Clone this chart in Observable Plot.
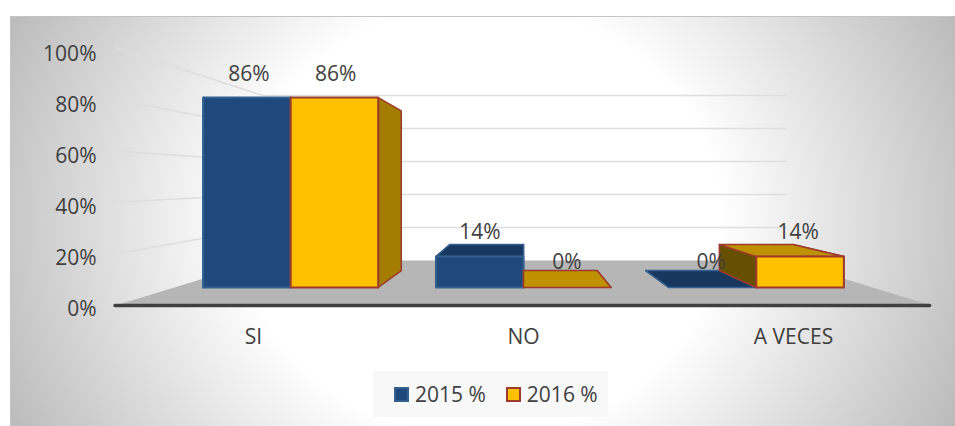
<!DOCTYPE html>
<html>
<head>
<meta charset="utf-8">
<script src="https://cdn.jsdelivr.net/npm/d3@7"></script>
<script src="https://cdn.jsdelivr.net/npm/@observablehq/plot@0.6"></script>
<style>
html,body{margin:0;padding:0;background:#fff;width:955px;height:426px;overflow:hidden}
#frame{position:absolute;left:10px;top:16px;width:945px;height:410px;box-sizing:border-box;
  border-top:1.5px solid #c4c4c4;border-left:1.5px solid #c4c4c4;
  background:radial-gradient(ellipse 520px 466px at 470px 204px,#ffffff 0%,#ffffff 46%,#bcbcbc 100%)}
#chart{position:absolute;left:0;top:0}
#chart svg{display:block;background:transparent}
#legend{position:absolute;left:373px;top:371px;width:235px;height:46px;background:#f8f8f8;
  display:flex;align-items:center;font:21px "Open Sans",sans-serif;color:#404040;white-space:nowrap}
.sw{display:inline-block;width:15px;height:15px;box-sizing:border-box;margin-right:6px}
</style>
</head>
<body>
<div id="frame"></div>
<div id="chart"></div>
<div id="legend"></div>
<script>
const categories = ["SI", "NO", "A VECES"];
const seriesNames = ["2015 %", "2016 %"];
const values2015 = [86, 14, 0];
const values2016 = [86, 0, 14];
const yTicks = [0, 20, 40, 60, 80, 100];

const blue = {front:"#1f497d", top:"#17375e", right:"#17375e", left:"#17375e", stroke:"#33608f"};
const gold = {front:"#ffc000", top:"#bf9000", right:"#a47c00", left:"#665000", stroke:"#9c3a2e"};

// perspective: a world point (wx, v) at depth s collapses toward the vanishing point
const vpX = 1, vpV = 48.4;
const frontS = 0.856, backS = 0.72, wallS = 0.64, labelS = 0.85, axisS = 0.9926, tickS = 0.988;
const barW = 0.376;
const proj = (wx, v, s) => ({x: vpX + (wx - vpX) * s, y: vpV + (v - vpV) * s});
const poly = pts => [...pts, pts[0]].map(([wx, v, s]) => proj(wx, v, s));

const face = (pts, fill, stroke, sw = 1.5) =>
  Plot.line(poly(pts), {x: "x", y: "y", fill, stroke, strokeWidth: sw, strokeLinejoin: "round"});

function bar(i, v, side, c) {
  const l = side > 0 ? i : i - barW, r = l + barW;
  const f = frontS, b = backS;
  return [
    face([[l,0,f],[l,0,b],[l,v,b],[l,v,f]], c.left, c.stroke),
    face([[r,0,f],[r,0,b],[r,v,b],[r,v,f]], c.right, c.stroke),
    ...(v < vpV ? [face([[l,v,f],[r,v,f],[r,v,b],[l,v,b]], c.top, c.stroke)] : []),
    ...(v > 0 ? [face([[l,0,f],[r,0,f],[r,v,f],[l,v,f]], c.front, c.stroke, 2)] : [])
  ];
}

const labelRows = [
  ...values2015.map((v, i) => ({...proj(i - barW / 2, v + 11, labelS), t: v + "%"})),
  ...values2016.map((v, i) => ({...proj(i + barW / 2, v + 11, labelS), t: v + "%"}))
];
const catRows = categories.map((c, i) => ({...proj(i, 0, axisS), y: 0, t: c}));
const tickRows = yTicks.map(t => ({x: -0.5, y: proj(0, t, tickS).y, t: t + "%"}));

const wallLines = yTicks.filter(t => t > 0).flatMap(t => [
  {...proj(-0.5, t, 1), t},
  {...proj(-0.5, t, wallS), t},
  {...proj(2.51, t, wallS), t}
]);

const chart = Plot.plot({
  width: 955, height: 360,
  marginLeft: 115, marginRight: 24, marginTop: 47, marginBottom: 55,
  x: {domain: [-0.5, 2.5], axis: null},
  y: {domain: [0, 100], axis: null},
  style: {background: "transparent", overflow: "visible"},
  marks: [
    Plot.line(wallLines, {x: "x", y: "y", z: "t", stroke: "#dedede", strokeWidth: 1.5}),
    face([[-0.5,0,1],[2.5,0,1],[2.5,0,wallS],[-0.5,0,wallS]], "#b6b6b6", "none", 0),
    ...bar(0, values2015[0], -1, blue),
    ...bar(0, values2016[0], 1, gold),
    ...bar(1, values2015[1], -1, blue),
    ...bar(1, values2016[1], 1, gold),
    ...bar(2, values2015[2], -1, blue),
    ...bar(2, values2016[2], 1, gold),
    Plot.ruleY([0], {x1: -0.5, x2: 2.495, stroke: "#404040", strokeWidth: 3.5, strokeLinecap: "round"}),
    Plot.text(tickRows, {x: "x", y: "y", text: "t", textAnchor: "end", dx: -19, dy: 5, fontSize: 21, fontFamily: "Open Sans", fill: "#404040"}),
    Plot.text(catRows, {x: "x", y: "y", text: "t", dy: 32, fontSize: 21, fontFamily: "Open Sans", fill: "#404040"}),
    Plot.text(labelRows, {x: "x", y: "y", text: "t", fontSize: 21, fontFamily: "Open Sans", fill: "#404040"})
  ]
});
document.getElementById("chart").append(chart);

const legend = document.getElementById("legend");
[[blue, seriesNames[0], 21], [gold, seriesNames[1], 20]].forEach(([c, name, ml]) => {
  const item = document.createElement("span");
  item.style.cssText = `display:inline-flex;align-items:center;margin-left:${ml}px`;
  item.innerHTML = `<span class="sw" style="background:${c.front};border:2px solid ${c.stroke}"></span>${name}`;
  legend.append(item);
});
</script>
</body>
</html>
